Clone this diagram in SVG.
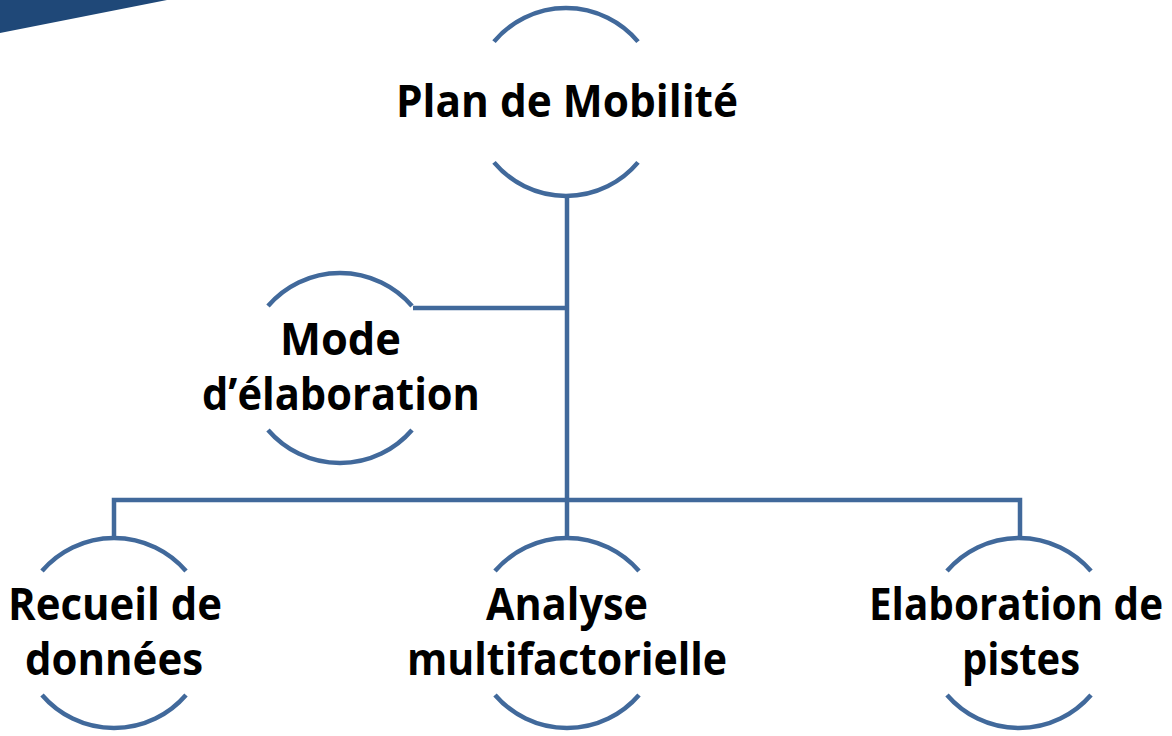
<svg xmlns="http://www.w3.org/2000/svg" width="1172" height="736" viewBox="0 0 1172 736">
<style>
.arc{fill:none;stroke:#41699b;stroke-width:4.5}
.conn{fill:none;stroke:#41699b;stroke-width:4.5}
.t{font-family:"Open Sans","Liberation Sans",sans-serif;font-weight:bold;font-size:44px;fill:#000;text-anchor:middle}
</style>
<rect width="1172" height="736" fill="#fff"/>
<polygon points="0,0 167,0 0,33" fill="#1f4878"/>
<g id="connectors">
<path class="conn" d="M567,196 V500"/>
<path class="conn" d="M413,308 H569"/>
<path class="conn" d="M114,540 V500 H1020 V540"/>
<path class="conn" d="M567,500 V540"/>
</g>
<g id="node-plan">
<path class="arc" d="M494,41.6 A94,94 0 0 1 638,41.6"/>
<path class="arc" d="M494,162.4 A94,94 0 0 0 638,162.4"/>
<text class="t" x="567" y="117" textLength="342" lengthAdjust="spacingAndGlyphs">Plan de Mobilité</text>
</g>
<g id="node-mode">
<path class="arc" d="M268,306 A95,95 0 0 1 412,306"/>
<path class="arc" d="M268,430 A95,95 0 0 0 412,430"/>
<text class="t" x="340.5" y="355" textLength="121" lengthAdjust="spacingAndGlyphs">Mode</text>
<text class="t" x="341" y="410" textLength="278" lengthAdjust="spacingAndGlyphs">d’élaboration</text>
</g>
<g id="node-recueil">
<path class="arc" d="M42,571 A95,95 0 0 1 186,571"/>
<path class="arc" d="M42,695 A95,95 0 0 0 186,695"/>
<text class="t" x="115" y="620" textLength="214" lengthAdjust="spacingAndGlyphs">Recueil de</text>
<text class="t" x="114" y="675" textLength="178" lengthAdjust="spacingAndGlyphs">données</text>
</g>
<g id="node-analyse">
<path class="arc" d="M495,571 A95,95 0 0 1 639,571"/>
<path class="arc" d="M495,695 A95,95 0 0 0 639,695"/>
<text class="t" x="567" y="620" textLength="162" lengthAdjust="spacingAndGlyphs">Analyse</text>
<text class="t" x="567" y="675" textLength="320" lengthAdjust="spacingAndGlyphs">multifactorielle</text>
</g>
<g id="node-elaboration">
<path class="arc" d="M947,571 A95,95 0 0 1 1091,571"/>
<path class="arc" d="M947,695 A95,95 0 0 0 1091,695"/>
<text class="t" x="1016" y="620" font-size="41" textLength="294" lengthAdjust="spacingAndGlyphs">Elaboration de</text>
<text class="t" x="1021" y="675" textLength="118" lengthAdjust="spacingAndGlyphs">pistes</text>
</g>
</svg>
